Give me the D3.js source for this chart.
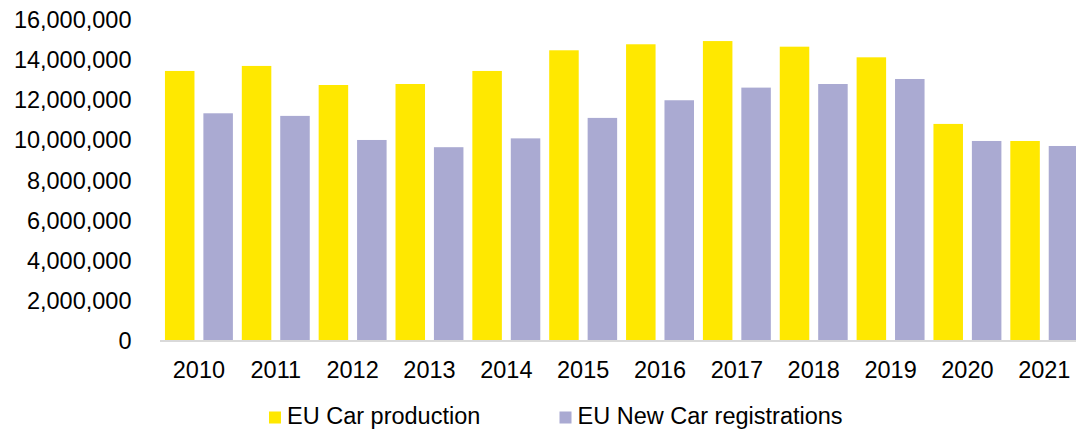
<!DOCTYPE html>
<html>
<head>
<meta charset="utf-8">
<script src="https://cdn.jsdelivr.net/npm/d3@7"></script>
<style>
  body { margin: 0; background: #fff; }
  text { font-family: "Liberation Sans", Arial, sans-serif; fill: #000; }
</style>
</head>
<body>
<script>
// chart data
const years = ["2010", "2011", "2012", "2013", "2014", "2015", "2016", "2017", "2018", "2019", "2020", "2021"];
const seriesNames = ["EU Car production", "EU New Car registrations"];
const production = [13460000, 13710000, 12760000, 12810000, 13460000, 14490000, 14790000, 14950000, 14670000, 14140000, 10820000, 9970000];
const registrations = [11350000, 11220000, 10020000, 9660000, 10100000, 11120000, 12000000, 12630000, 12810000, 13060000, 9970000, 9720000];
const yTicks = [0, 2000000, 4000000, 6000000, 8000000, 10000000, 12000000, 14000000, 16000000];
const colors = ["#ffe800", "#aaaad2"];

const width = 1076;
const height = 430;

const svg = d3.select("body").append("svg")
    .attr("width", width)
    .attr("height", height);

const x0 = d3.scaleBand()
    .domain(years)
    .range([160.5, 1082.7])
    .paddingInner(0.116)
    .paddingOuter(0.058);

const x1 = d3.scaleBand()
    .domain([0, 1])
    .range([0, x0.bandwidth()])
    .paddingInner(0.232)
    .paddingOuter(0);

const y = d3.scaleLinear()
    .domain([0, 16000000])
    .range([341, 20]);

// bars
const rows = years.map((yr, i) => ({ year: yr, values: [production[i], registrations[i]] }));

const groups = svg.append("g")
    .selectAll("g")
    .data(rows)
    .join("g")
    .attr("transform", d => "translate(" + x0(d.year) + ",0)");

groups.selectAll("rect")
    .data(d => d.values.map((v, k) => ({ k: k, v: v })))
    .join("rect")
    .attr("x", d => x1(d.k))
    .attr("y", d => y(d.v))
    .attr("width", x1.bandwidth())
    .attr("height", d => y(0) - y(d.v))
    .attr("fill", d => colors[d.k]);

// y axis
const yAxis = svg.append("g")
    .attr("transform", "translate(160.5,0)")
    .call(d3.axisLeft(y).tickValues(yTicks).tickFormat(d3.format(",")).tickSize(0).tickPadding(29));
yAxis.select(".domain").remove();
yAxis.selectAll("text").style("font-size", "23.5px");

// x axis
const xAxis = svg.append("g")
    .attr("transform", "translate(0,341)")
    .call(d3.axisBottom(x0).tickSize(0).tickSizeOuter(0).tickPadding(20.5));
xAxis.select(".domain").attr("stroke", "#d9d9d9").attr("stroke-width", 2)
    .attr("d", "M160,0H1076");
xAxis.selectAll("text").style("font-size", "23.5px");

// legend
const legendX = [269, 559.5];
const legend = svg.append("g")
    .selectAll("g")
    .data(seriesNames)
    .join("g")
    .attr("transform", (d, i) => "translate(" + legendX[i] + ",411.5)");

legend.append("rect")
    .attr("width", 12)
    .attr("height", 12)
    .attr("fill", (d, i) => colors[i]);

legend.append("text")
    .attr("x", 18)
    .attr("y", 12.5)
    .style("font-size", "23.5px")
    .text(d => d);
</script>
</body>
</html>
